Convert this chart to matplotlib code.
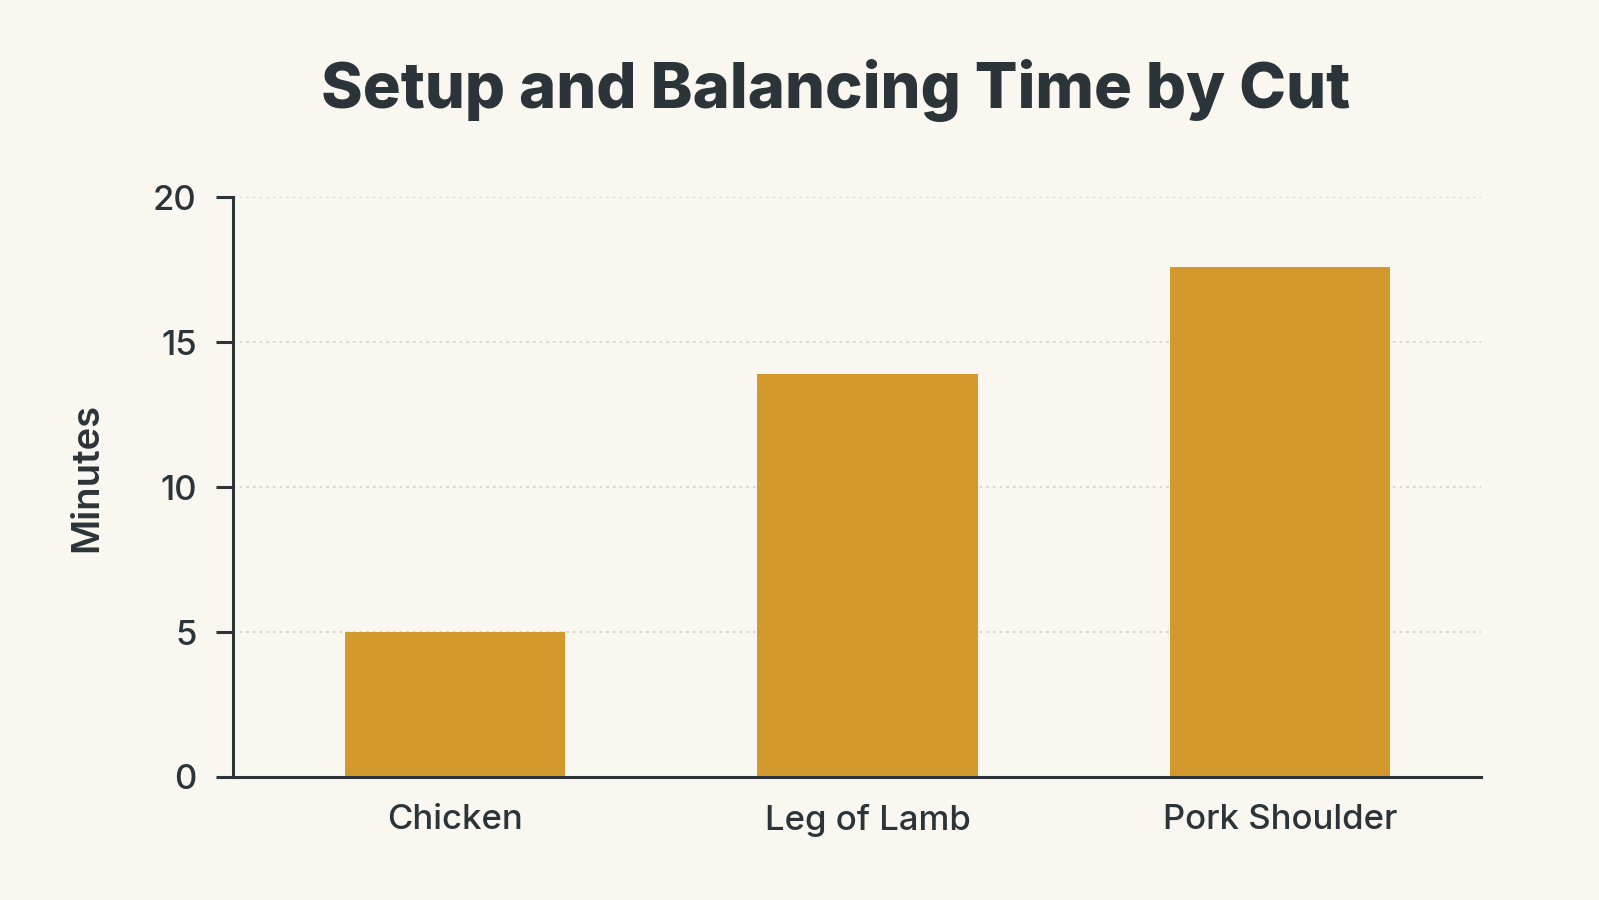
import matplotlib
matplotlib.use("Agg")
import matplotlib.pyplot as plt

categories = ["Chicken", "Leg of Lamb", "Pork Shoulder"]
minutes = [5.0, 13.9, 17.6]
yticks = [0, 5, 10, 15, 20]

BG = "#FAF7F0"
BAR = "#D4992D"
INK = "#2B3438"
GRID = "#D3D0C9"

plt.rcParams["font.family"] = ["Inter", "DejaVu Sans"]

fig = plt.figure(figsize=(15.99, 9.0), dpi=100, facecolor=BG)
ax = fig.add_axes([0.1457, 0.1367, 0.9262 - 0.1457, 0.781 - 0.1367])
ax.set_facecolor(BG)

x = list(range(len(categories)))
ax.bar(x, minutes, width=0.535, color=BAR, zorder=3)

ax.set_xlim(-0.538, 2.487)
ax.set_ylim(0, 20)
ax.set_yticks(yticks)
ax.set_yticklabels([str(t) for t in yticks])
ax.set_xticks(x)
ax.set_xticklabels(categories)

for t in yticks[1:]:
    ax.axhline(t, color=GRID, lw=1.2, ls=(0, (1.5, 2.5)), zorder=1)

for s in ["top", "right"]:
    ax.spines[s].set_visible(False)
for s in ["left", "bottom"]:
    ax.spines[s].set_color(INK)
    ax.spines[s].set_linewidth(2.2)
    ax.spines[s].set_zorder(4)

ax.tick_params(axis="y", length=12, width=2.2, color=INK, pad=14,
               labelsize=25, labelcolor=INK)
ax.tick_params(axis="x", length=0, pad=19.5, labelsize=25, labelcolor=INK)
for lab in ax.get_xticklabels() + ax.get_yticklabels():
    lab.set_fontweight("medium")

ax.set_ylabel("Minutes", fontsize=27.5, color=INK, fontweight="semibold")
ax.yaxis.set_label_coords(-0.1026, 0.517)

fig.text(0.5225, 0.9, "Setup and Balancing Time by Cut", ha="center", va="center",
         fontsize=45.5, fontweight="heavy", color=INK)

fig.savefig("out.png", dpi=100, facecolor=BG)
